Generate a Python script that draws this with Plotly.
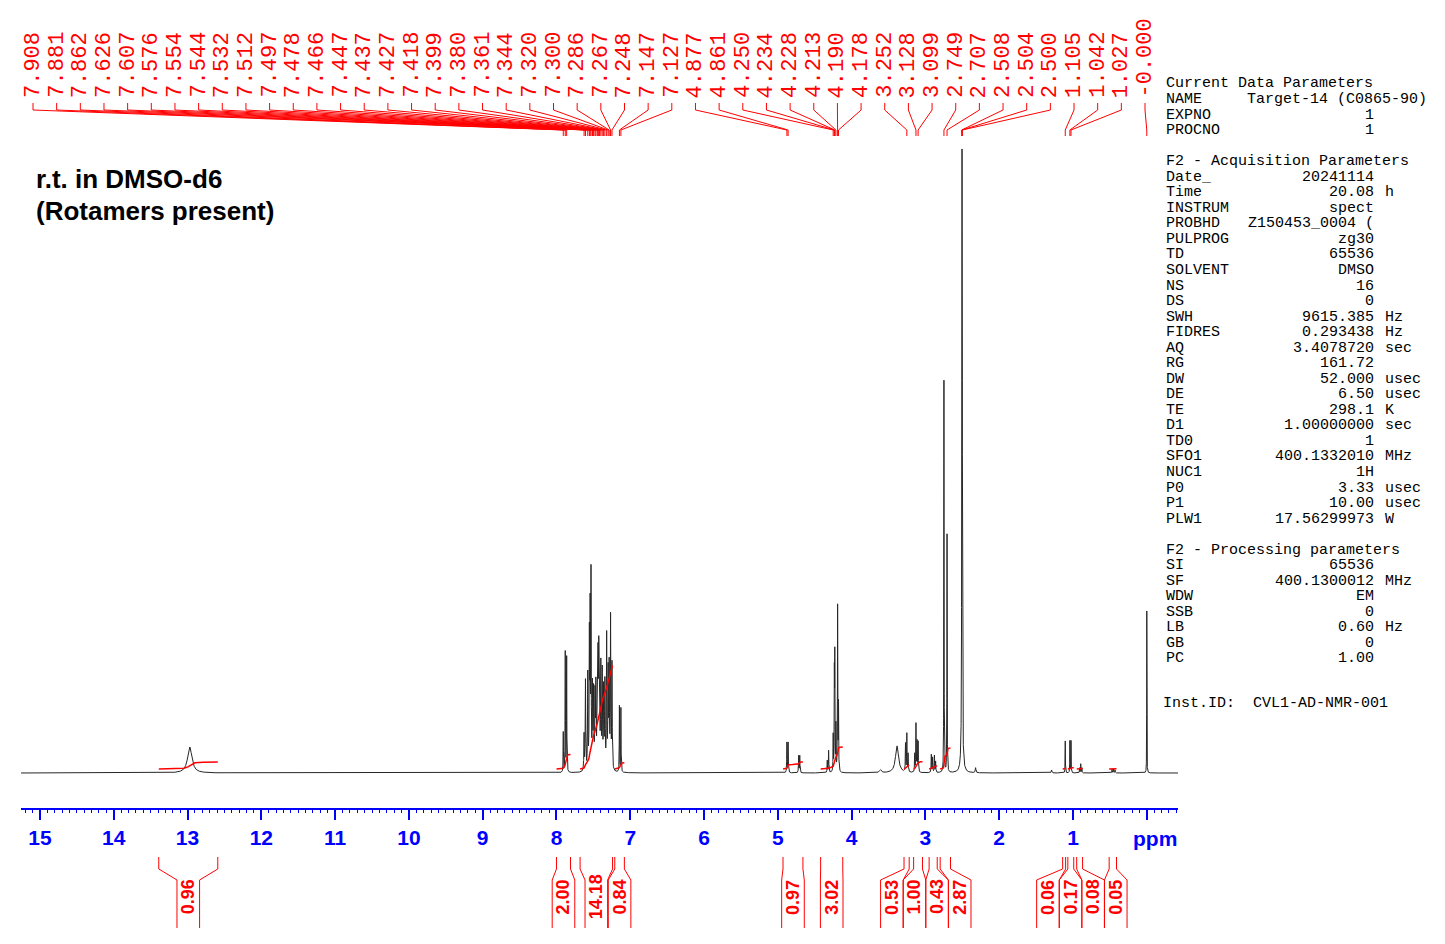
import numpy as np
import plotly.graph_objects as go

# ---------------- data ----------------
# spectrum lines: position (ppm), height (intensity units), line width (ppm)
PEAK_PPM = [12.97, 7.908, 7.881, 7.862, 7.626, 7.607, 7.576, 7.554, 7.544, 7.532, 7.512, 7.497,
            7.478, 7.466, 7.447, 7.437, 7.427, 7.418, 7.399, 7.380, 7.361, 7.344, 7.320, 7.300,
            7.286, 7.267, 7.248, 7.147, 7.127, 4.877, 4.861, 4.718, 4.703, 4.330, 4.312, 4.250,
            4.234, 4.228, 4.213, 4.190, 4.178, 3.610, 3.385, 3.270, 3.252, 3.235, 3.145, 3.128,
            3.113, 3.099, 2.920, 2.903, 2.878, 2.862, 2.749, 2.707, 2.508, 2.504, 2.500, 2.504,
            2.320, 1.290, 1.105, 1.042, 1.027, 0.910, 0.895, 0.880, 0.470, 0.450, 0.430, 0.000]
PEAK_HEIGHT = [26, 40, 120, 115, 36, 90, 95, 130, 150, 190, 80, 75,
               70, 78, 88, 95, 98, 104, 100, 95, 78, 85, 132, 95,
               100, 150, 105, 66, 64, 30, 30, 17, 17, 12, 22, 36,
               92, 110, 45, 165, 66, 3, 27, 28, 38, 18, 18, 48,
               30, 30, 18, 15, 17, 11, 392, 238, 300, 470, 300, 80,
               5, 3, 32, 32, 32, 5, 9, 5, 4, 4, 3, 162]
PEAK_FWHM = [0.07, 0.005, 0.005, 0.005, 0.007, 0.007, 0.007, 0.007, 0.006, 0.006, 0.008, 0.008,
             0.008, 0.008, 0.008, 0.008, 0.008, 0.008, 0.008, 0.008, 0.008, 0.008, 0.007, 0.008,
             0.008, 0.007, 0.007, 0.005, 0.005, 0.006, 0.006, 0.006, 0.006, 0.006, 0.006, 0.005,
             0.005, 0.005, 0.005, 0.005, 0.005, 0.03, 0.05, 0.006, 0.006, 0.006, 0.006, 0.006,
             0.006, 0.006, 0.006, 0.006, 0.006, 0.006, 0.004, 0.004, 0.003, 0.003, 0.003, 0.02,
             0.01, 0.01, 0.004, 0.004, 0.004, 0.005, 0.005, 0.005, 0.006, 0.006, 0.006, 0.003]

# picked peak labels (ppm)
PEAK_LABELS = [7.908, 7.881, 7.862, 7.626, 7.607, 7.576, 7.554, 7.544, 7.532, 7.512, 7.497, 7.478,
               7.466, 7.447, 7.437, 7.427, 7.418, 7.399, 7.380, 7.361, 7.344, 7.320, 7.300, 7.286,
               7.267, 7.248, 7.147, 7.127, 4.877, 4.861, 4.250, 4.234, 4.228, 4.213, 4.190, 4.178,
               3.252, 3.128, 3.099, 2.749, 2.707, 2.508, 2.504, 2.500, 1.105, 1.042, 1.027, -0.0]

# integrals
INTEGRAL_VALUES = [0.96, 2.00, 14.18, 0.84, 0.97, 3.02, 0.53, 1.00, 0.43, 2.87, 0.06, 0.17, 0.08, 0.05]
INTEGRAL_FROM = [13.39, 8.00, 7.68, 7.21, 4.93, 4.42, 3.29, 3.16, 2.95, 2.80, 1.14, 1.07, 0.95, 0.51]
INTEGRAL_TO = [12.59, 7.81, 7.24, 7.08, 4.66, 4.12, 3.22, 3.04, 2.84, 2.66, 1.10, 0.99, 0.87, 0.41]

AXIS_TICKS = list(range(0, 16))

TITLE_LINES = ["r.t. in DMSO-d6", "(Rotamers present)"]

PARAM_ROWS = [
    ("Current Data Parameters", "", ""),
    ("NAME", "Target-14 (C0865-90)", ""),
    ("EXPNO", "1", ""),
    ("PROCNO", "1", ""),
    None,
    ("F2 - Acquisition Parameters", "", ""),
    ("Date_", "20241114", ""),
    ("Time", "20.08", "h"),
    ("INSTRUM", "spect", ""),
    ("PROBHD", "Z150453_0004 (", ""),
    ("PULPROG", "zg30", ""),
    ("TD", "65536", ""),
    ("SOLVENT", "DMSO", ""),
    ("NS", "16", ""),
    ("DS", "0", ""),
    ("SWH", "9615.385", "Hz"),
    ("FIDRES", "0.293438", "Hz"),
    ("AQ", "3.4078720", "sec"),
    ("RG", "161.72", ""),
    ("DW", "52.000", "usec"),
    ("DE", "6.50", "usec"),
    ("TE", "298.1", "K"),
    ("D1", "1.00000000", "sec"),
    ("TD0", "1", ""),
    ("SFO1", "400.1332010", "MHz"),
    ("NUC1", "1H", ""),
    ("P0", "3.33", "usec"),
    ("P1", "10.00", "usec"),
    ("PLW1", "17.56299973", "W"),
    None,
    ("F2 - Processing parameters", "", ""),
    ("SI", "65536", ""),
    ("SF", "400.1300012", "MHz"),
    ("WDW", "EM", ""),
    ("SSB", "0", ""),
    ("LB", "0.60", "Hz"),
    ("GB", "0", ""),
    ("PC", "1.00", ""),
]
INST_ID = "Inst.ID:\u00a0\u00a0CVL1-AD-NMR-001"

# ---------------- layout constants ----------------
W, H = 1445, 944
AX_X0, AX_X1 = 21.0, 1178.0           # pixel extent of the ppm axis
PPM_LEFT, PPM_RIGHT = 15.257, -0.423
BASE_PX = 773.0                        # spectrum baseline (px from top)
AXIS_PX = 809.0
RED = "#FF0000"
BLUE = "#0000FF"
MONO = "Liberation Mono"
SANS = "Liberation Sans"


def ppm2px(p):
    return AX_X0 + (PPM_LEFT - p) / (PPM_LEFT - PPM_RIGHT) * (AX_X1 - AX_X0)


def px2ppm(x):
    return PPM_LEFT - (x - AX_X0) / (AX_X1 - AX_X0) * (PPM_LEFT - PPM_RIGHT)


def py(y):
    return 1.0 - y / H


# ---------------- spectrum ----------------
grid = np.arange(PPM_RIGHT, PPM_LEFT, 0.0005)
xs = np.unique(np.concatenate([grid, np.array(PEAK_PPM)]))[::-1]
spec = np.zeros_like(xs)
for p, h, w in zip(PEAK_PPM, PEAK_HEIGHT, PEAK_FWHM):
    spec += h / (1.0 + ((xs - p) / (w / 2.0)) ** 2)

fig = go.Figure()
fig.add_trace(go.Scatter(x=xs, y=np.round(spec, 2), mode="lines",
                         line=dict(color="#262626", width=1), hoverinfo="skip"))

# integral curves
K_INT = 7.3
INT_OFFSET = 4.0
ix, iy = [], []
for a, b, v in zip(INTEGRAL_FROM, INTEGRAL_TO, INTEGRAL_VALUES):
    m = (xs <= a) & (xs >= b)
    seg_x = xs[m]
    cum = np.cumsum(spec[m])
    cum = cum / cum[-1] if cum[-1] > 0 else cum
    ix += list(seg_x) + [None]
    iy += list(np.round(INT_OFFSET + cum * v * K_INT, 2)) + [None]
fig.add_trace(go.Scatter(x=ix, y=iy, mode="lines", line=dict(color=RED, width=1.5),
                         hoverinfo="skip", connectgaps=False))

shapes = []
annotations = []

# ---------------- peak labels (top) ----------------
n = len(PEAK_LABELS)
label_px = np.linspace(33, 1145, n)
for lx, p in zip(label_px, PEAK_LABELS):
    lp = px2ppm(lx)
    path = (f"M{lp:.5f},{py(103):.5f} L{lp:.5f},{py(110):.5f} "
            f"L{p:.5f},{py(130):.5f} L{p:.5f},{py(136):.5f}")
    shapes.append(dict(type="path", path=path, xref="x", yref="paper",
                       line=dict(color=RED, width=1)))
    annotations.append(dict(x=lp, y=py(99), xref="x", yref="paper", text=f"{p:.3f}",
                            textangle=-90, showarrow=False, xanchor="center", yanchor="bottom",
                            borderpad=0, font=dict(family=MONO, size=22, color=RED)))

# ---------------- integral labels (bottom) ----------------
GAP = 22.6
mids = [(ppm2px(a) + ppm2px(b)) / 2 for a, b in zip(INTEGRAL_FROM, INTEGRAL_TO)]
clusters = [[i] for i in range(len(mids))]


def cluster_pos(c):
    m = np.mean([mids[i] for i in c])
    return [m + (k - (len(c) - 1) / 2) * GAP for k in range(len(c))]


changed = True
while changed:
    changed = False
    for j in range(len(clusters) - 1):
        if cluster_pos(clusters[j])[-1] + GAP > cluster_pos(clusters[j + 1])[0] + 0.01:
            clusters[j] = clusters[j] + clusters[j + 1]
            del clusters[j + 1]
            changed = True
            break
centers = [0.0] * len(mids)
for c in clusters:
    for i, pos in zip(c, cluster_pos(c)):
        centers[i] = pos

HALF = 11.3
for a, b, v, cx in zip(INTEGRAL_FROM, INTEGRAL_TO, INTEGRAL_VALUES, centers):
    for edge, bx in ((a, cx - HALF), (b, cx + HALF)):
        bp = px2ppm(bx)
        path = (f"M{edge:.5f},{py(857):.5f} L{edge:.5f},{py(869):.5f} "
                f"L{bp:.5f},{py(880):.5f} L{bp:.5f},{py(928):.5f}")
        shapes.append(dict(type="path", path=path, xref="x", yref="paper",
                           line=dict(color=RED, width=1)))
    annotations.append(dict(x=px2ppm(cx), y=py(897), xref="x", yref="paper", text=f"{v:.2f}",
                            textangle=-90, showarrow=False, xanchor="center", yanchor="middle",
                            borderpad=0, font=dict(family=SANS, size=18, color=RED, weight="bold")))

# ppm unit label
annotations.append(dict(x=1155 / W, y=py(838), xref="paper", yref="paper", text="ppm",
                        showarrow=False, xanchor="center", yanchor="middle",
                        font=dict(family=SANS, size=21, color=BLUE, weight="bold")))

# title text
for i, t in enumerate(TITLE_LINES):
    annotations.append(dict(x=35 / W, y=py(179 + 32 * i), xref="paper", yref="paper", text=t,
                            showarrow=False, xanchor="left", yanchor="middle", borderpad=0,
                            font=dict(family=SANS, size=26, color="black", weight="bold")))

# parameter block
P_NAME_X, P_VAL_X, P_UNIT_X = 1165, 1375, 1384
for i, row in enumerate(PARAM_ROWS):
    if row is None:
        continue
    y = py(84 + 15.54 * i)
    name, val, unit = row
    annotations.append(dict(x=P_NAME_X / W, y=y, xref="paper", yref="paper", text=name,
                            showarrow=False, xanchor="left", yanchor="middle", borderpad=0,
                            font=dict(family=MONO, size=15, color="black")))
    if val:
        vx = 1428 if name == "NAME" else P_VAL_X
        annotations.append(dict(x=vx / W, y=y, xref="paper", yref="paper", text=val,
                                showarrow=False, xanchor="right", yanchor="middle", borderpad=0,
                                font=dict(family=MONO, size=15, color="black")))
    if unit:
        annotations.append(dict(x=P_UNIT_X / W, y=y, xref="paper", yref="paper", text=unit,
                                showarrow=False, xanchor="left", yanchor="middle", borderpad=0,
                                font=dict(family=MONO, size=15, color="black")))
annotations.append(dict(x=1162 / W, y=py(703), xref="paper", yref="paper", text=INST_ID,
                        showarrow=False, xanchor="left", yanchor="middle", borderpad=0,
                        font=dict(family=MONO, size=15, color="black")))

fig.update_layout(
    width=W, height=H, margin=dict(l=0, r=0, t=0, b=0),
    paper_bgcolor="white", plot_bgcolor="rgba(0,0,0,0)", showlegend=False,
    xaxis=dict(range=[PPM_LEFT, PPM_RIGHT], domain=[AX_X0 / W, AX_X1 / W], anchor="free",
               position=py(AXIS_PX), showline=True, linecolor=BLUE, linewidth=2,
               ticks="outside", ticklen=10, tickwidth=1.5, tickcolor=BLUE,
               tickmode="array", tickvals=AXIS_TICKS,
               ticktext=["" if t == 0 else str(t) for t in AXIS_TICKS],
               tickfont=dict(family=SANS, size=21, color=BLUE, weight="bold"),
               minor=dict(dtick=0.1, tick0=0, ticklen=3, tickwidth=1, tickcolor=BLUE,
                          ticks="outside", showgrid=False),
               showgrid=False, zeroline=False, fixedrange=True),
    yaxis=dict(range=[BASE_PX - H, BASE_PX], domain=[0, 1], visible=False, fixedrange=True),
    shapes=shapes, annotations=annotations,
)

fig.write_html("out.html")
